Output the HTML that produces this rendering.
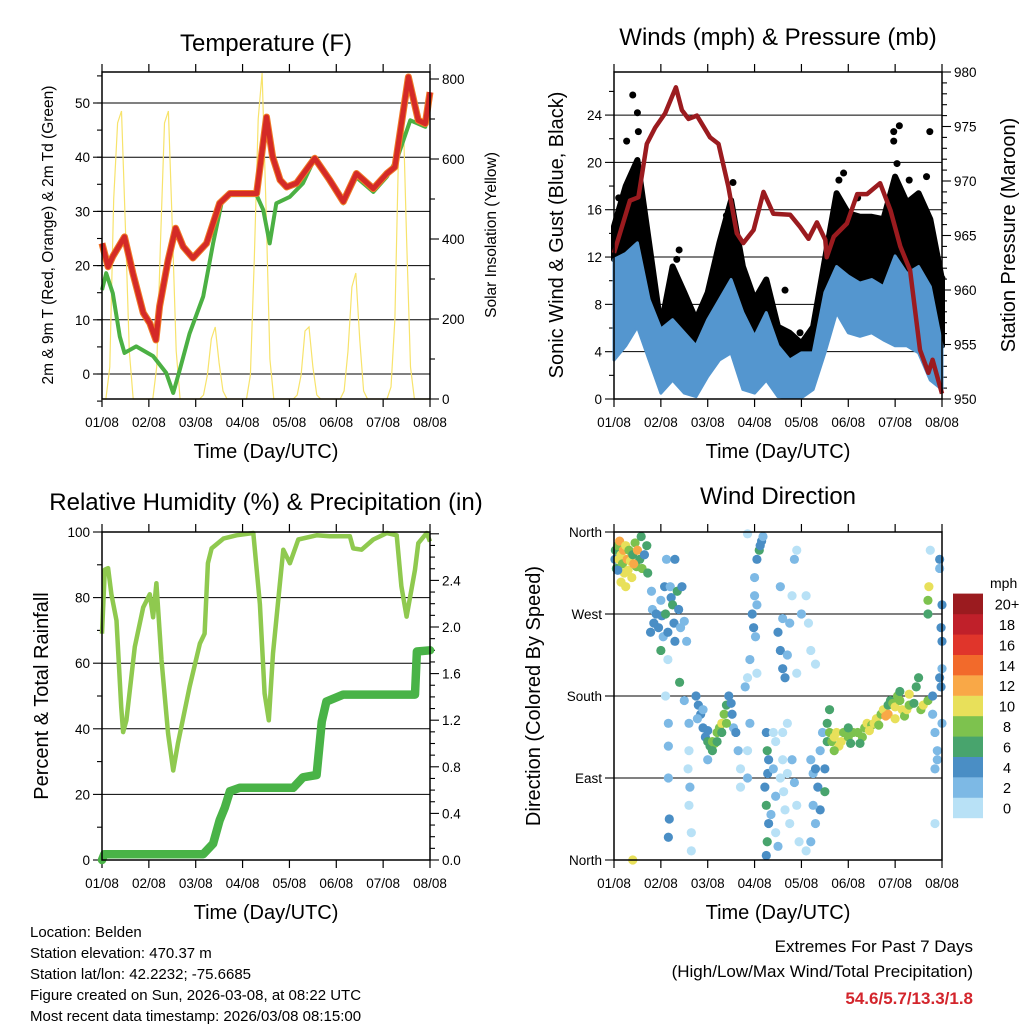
<!DOCTYPE html>
<html><head><meta charset="utf-8"><style>
html,body{margin:0;padding:0;background:#fff;}
svg{display:block;font-family:"Liberation Sans",sans-serif;}
</style></head><body>
<svg id="s" width="1024" height="1024" viewBox="0 0 1024 1024" xmlns="http://www.w3.org/2000/svg">
<rect width="1024" height="1024" fill="#fff"/>
<g id="g1"></g>
<g id="g2"></g>
<g id="g3"></g>
<g id="g4"></g>
<g id="g5"></g>
<text x="266" y="51" font-size="24" text-anchor="middle">Temperature (F)</text>
<text x="778" y="45" font-size="24" text-anchor="middle">Winds (mph) &amp; Pressure (mb)</text>
<text x="266" y="510" font-size="24" text-anchor="middle">Relative Humidity (%) &amp; Precipitation (in)</text>
<text x="778" y="504" font-size="24" text-anchor="middle">Wind Direction</text>
<text transform="translate(53,235) rotate(-90)" font-size="15.5" text-anchor="middle">2m &amp; 9m T (Red, Orange) &amp; 2m Td (Green)</text>
<text transform="translate(496,235) rotate(-90)" font-size="15.5" text-anchor="middle">Solar Insolation (Yellow)</text>
<text transform="translate(563,235) rotate(-90)" font-size="20" text-anchor="middle">Sonic Wind &amp; Gust (Blue, Black)</text>
<text transform="translate(1015,235) rotate(-90)" font-size="20" text-anchor="middle">Station Pressure (Maroon)</text>
<text transform="translate(48,696) rotate(-90)" font-size="20" text-anchor="middle">Percent &amp; Total Rainfall</text>
<text transform="translate(540,696) rotate(-90)" font-size="20" text-anchor="middle">Direction (Colored By Speed)</text>
<text x="266" y="458" font-size="20" text-anchor="middle">Time (Day/UTC)</text>
<text x="778" y="458" font-size="20" text-anchor="middle">Time (Day/UTC)</text>
<text x="266" y="919" font-size="20" text-anchor="middle">Time (Day/UTC)</text>
<text x="778" y="919" font-size="20" text-anchor="middle">Time (Day/UTC)</text>
<g font-size="15">
<text x="30" y="937">Location: Belden</text>
<text x="30" y="958">Station elevation: 470.37 m</text>
<text x="30" y="979">Station lat/lon: 42.2232; -75.6685</text>
<text x="30" y="1000">Figure created on Sun, 2026-03-08, at 08:22 UTC</text>
<text x="30" y="1021">Most recent data timestamp: 2026/03/08 08:15:00</text>
</g>
<text x="973" y="952" font-size="17" text-anchor="end">Extremes For Past 7 Days</text>
<text x="973" y="977" font-size="17" text-anchor="end">(High/Low/Max Wind/Total Precipitation)</text>
<text x="973" y="1004" font-size="17" font-weight="bold" fill="#d3252c" text-anchor="end">54.6/5.7/13.3/1.8</text>
</svg>
<script>
// ---------- DATA ----------
const dayLabels = ["01/08","02/08","03/08","04/08","05/08","06/08","07/08","08/08"];
const tempTimes = [0,0.13,0.23,0.48,0.66,0.88,1.02,1.15,1.23,1.41,1.57,1.73,1.94,2.23,2.51,2.73,3.30,3.51,3.64,3.8,3.94,4.15,4.54,4.86,5.15,5.43,5.79,6.08,6.25,6.54,6.75,6.9,7.0];
const tempValues = [24.1,19.8,21.7,25.3,18.6,11.3,9.4,6.3,12.5,21,26.9,23.5,21.4,24.1,31.5,33.3,33.3,47.4,40.1,35.8,34.5,35.2,39.8,35.8,31.8,37,34.2,37,38.2,54.8,46.8,46.2,52];
const dewTimes = [0,0.09,0.23,0.38,0.48,0.73,1.09,1.37,1.52,1.66,1.87,2.16,2.37,2.55,2.73,3.3,3.44,3.58,3.72,4.01,4.29,4.54,4.86,5.15,5.43,5.79,6.08,6.3,6.58,6.9,7.0];
const dewValues = [15.5,18.6,14.9,6.9,3.9,5.1,3.3,0.2,-3.5,0.8,7.5,14.3,24.1,31.5,33,33,30.3,24.1,31.5,32.7,35.2,39.8,35.3,31.5,36.3,33.6,36.4,39.8,46.8,45.6,51.4];
const solarHours = [0,2,4,6,8,10,12,14,16,18,20,22];
const solarDay0 = [0,0,80,500,690,720,430,120,0,0,0,0];
const solarDay1 = [0,0,80,400,690,720,430,120,0,0,0,0];
const solarDay2 = [0,0,10,60,150,180,90,20,0,0,0,0];
const solarDay3 = [0,0,60,350,700,815,480,100,0,0,0,0];
const solarDay4 = [0,0,10,60,170,180,80,10,0,0,0,0];
const solarDay5 = [0,0,20,120,280,315,150,20,0,0,0,0];
const solarDay6 = [0,0,30,200,650,757,400,80,0,0,0,0];

const pressTimes = [0,0.34,0.52,0.70,0.88,1.09,1.32,1.45,1.59,1.77,2.05,2.23,2.44,2.62,2.76,2.98,3.19,3.40,3.76,3.97,4.15,4.33,4.51,4.54,4.69,4.97,5.19,5.40,5.68,5.90,6.11,6.32,6.53,6.71,6.8,7.0];
const pressValues = [963.4,968.2,968.5,973.4,974.9,976.2,978.6,976.5,975.7,976,974,973.4,969.5,965.2,964.3,965.5,969,967,966.9,965.8,964.7,966.2,964.6,963,964.9,966.1,968.8,968.8,969.8,967.3,964,961.8,954.5,952.4,953.6,950.5];
const windTimes = [0,0.25,0.5,0.75,1,1.25,1.5,1.75,2,2.25,2.5,2.75,3,3.25,3.5,3.75,4,4.25,4.5,4.75,5,5.25,5.5,5.75,6,6.25,6.5,6.75,7];
const windHigh = [11.8,12.3,13.2,8.4,5.9,6.7,5.6,4.5,6.7,8.4,10.1,7.3,5.3,7.3,4.5,3.3,3.9,3.9,9.0,11.2,10.4,9.8,10.1,9.5,12.1,10.6,11.2,9.5,4.5];
const windLow = [3.3,4.5,6.1,3.3,0.5,1.6,0.5,0.2,1.9,3.3,3.9,0.8,0.5,1.6,0.2,0.1,0.1,0.8,3.9,7.3,5.6,5.3,5.6,5.0,4.5,4.5,3.9,1.6,0.8];
const gustHigh = [14.6,18,20.2,13.2,6.1,11.2,9.0,6.7,9.0,13.2,16.8,11.2,8.4,10.1,6.1,5.6,4.7,6.1,11.8,17.4,15.7,15.4,15.4,15.2,18.8,16.6,17.4,15.2,10.1];
const gustOutTimes = [0.40,0.50,0.52,0.27,1.39,1.34,2.54,3.97,3.65,4.90,5.97,6.09,5.97,6.74,6.67,7.0,6.04,0.1,0.6,2.4,4.8,5.2,6.3];
const gustOutValues = [25.7,24.2,22.6,21.8,12.6,11.8,18.3,5.6,9.2,19.1,22.6,23.1,21.8,22.6,18.8,10.2,19.9,17,16,15.5,18.5,17,18.5];

const rhTimes = [0,0.06,0.13,0.2,0.31,0.41,0.45,0.52,0.70,0.88,1.02,1.09,1.16,1.27,1.41,1.52,1.62,1.87,2.09,2.19,2.26,2.34,2.59,2.87,3.23,3.37,3.47,3.56,3.65,3.79,3.87,4.01,4.19,4.58,4.86,5.29,5.36,5.54,5.79,6.08,6.29,6.39,6.50,6.68,6.75,6.93,7.0];
const rhValues = [69,88.5,89,81,73,46.7,39,42.6,65,77,81,74,84.4,61,38.5,27.3,35.5,52.8,66,69,90.5,95,98,99,99.7,78,50.8,42.6,63,83.4,94.6,90.5,97.7,99,98.7,98.7,95,94.6,97.7,99.7,99,83.4,74.2,88.5,96.6,99.7,97.1];
const rainTimes = [0,0.05,2.16,2.37,2.51,2.62,2.73,2.94,4.08,4.29,4.58,4.69,4.79,5.15,6.68,6.72,7.0];
const rainValues = [0,0.05,0.05,0.14,0.34,0.45,0.59,0.62,0.62,0.71,0.73,1.19,1.36,1.42,1.42,1.79,1.80];

const dirTimes = [0.02,0.03,0.05,0.08,0.1,0.12,0.15,0.18,0.2,0.22,0.25,0.28,0.3,0.32,0.35,0.38,0.4,0.45,0.48,0.5,0.55,0.58,0.6,0.65,0.7,0.72,0.15,0.25,0.42,0.08,
0.8,0.82,0.85,0.9,0.95,1.0,1.02,1.05,1.08,1.1,1.15,1.2,1.22,1.25,1.28,1.3,1.35,1.38,1.42,1.45,1.5,1.55,1.12,1.3,0.78,1.0,
1.15,1.4,1.5,1.1,1.16,1.16,1.16,1.18,1.16,1.6,1.6,1.62,1.6,1.65,1.65,1.58,
1.75,1.8,1.85,1.9,1.95,2.0,2.05,2.1,2.15,2.2,2.25,2.3,2.35,2.4,2.45,2.5,2.52,2.55,1.9,2.0,2.1,2.2,2.3,2.4,2.6,2.65,2.7,2.7,1.78,2.0,
2.85,3.0,3.05,3.1,3.12,3.15,3.18,3.0,2.95,2.98,3.02,3.05,2.9,2.85,2.8,3.05,2.9,2.85,2.85,
3.25,3.27,3.3,3.28,3.22,3.25,3.3,3.27,3.25,3.35,3.4,3.4,3.45,3.45,3.45,3.5,3.55,3.6,3.62,3.65,3.7,3.75,3.8,3.85,3.9,3.95,3.6,3.7,
3.5,3.55,3.6,3.65,3.7,3.6,3.55,3.75,3.85,3.9,4.1,4.15,4.2,4.3,4.0,3.8,3.9,
4.2,4.25,4.3,4.35,4.4,4.4,4.45,4.5,4.5,4.55,4.55,4.6,4.25,4.3,4.2,4.1,
4.6,4.65,4.7,4.75,4.8,4.85,4.9,5.0,5.05,5.1,5.2,5.3,5.35,5.4,5.5,5.55,5.6,5.7,5.75,5.8,5.85,5.9,5.95,6.0,6.05,6.1,6.15,6.2,6.25,6.3,6.4,6.45,6.5,6.55,6.6,6.7,4.7,5.0,5.25,5.45,5.65,5.85,6.0,6.1,6.3,
6.8,6.85,6.9,6.85,6.9,6.8,6.95,7.0,6.98,7.0,6.95,6.85,6.95,6.75,6.7,6.7,6.72,7.0,6.98,7.0,0.4];
const dirValues = [330,340,320,345,330,350,335,325,340,315,345,330,318,340,328,310,335,348,322,340,330,355,320,335,345,315,305,300,325,318,
295,275,260,270,255,285,268,245,300,270,250,300,288,280,260,240,295,275,255,300,262,240,330,330,250,230,
220,195,175,180,150,125,90,45,25,150,120,80,60,30,10,100,
180,170,160,145,135,130,125,130,128,140,145,150,160,170,180,172,160,145,165,142,120,130,140,150,140,120,100,80,155,110,
358,310,330,340,345,350,355,290,270,255,245,280,220,200,190,205,150,120,90,
140,120,110,95,80,60,40,20,5,50,100,140,130,70,30,15,90,110,75,55,95,40,110,85,60,20,140,150,
250,230,210,200,225,265,300,260,330,340,290,260,230,215,270,290,205,
110,95,100,80,55,120,140,100,75,130,150,165,60,40,20,10,
140,130,135,140,125,130,140,135,128,140,140,135,145,150,148,150,155,160,165,158,170,175,172,168,180,175,165,158,165,170,172,190,200,165,170,175,120,145,128,142,148,160,155,185,182,
160,140,120,100,110,180,200,240,255,280,320,40,330,340,285,270,300,210,190,150,0];
const dirSpeeds = [4,6,6,8,10,12,10,8,12,10,10,12,10,8,10,10,6,8,8,12,6,6,8,4,6,6,10,10,12,4,
2,2,4,4,4,2,4,2,4,6,4,2,4,6,4,4,6,4,2,4,2,2,2,4,4,6,
0,6,2,0,2,2,2,4,4,2,0,2,0,0,0,0,
4,4,4,4,4,6,6,8,8,8,8,10,8,6,4,4,4,2,2,4,6,6,6,8,4,2,0,0,2,2,
0,2,4,6,4,4,2,2,4,4,2,2,2,0,2,0,2,0,2,
4,6,4,4,4,6,4,6,4,2,2,0,0,2,0,2,0,0,0,0,0,0,2,2,0,0,0,0,
4,4,4,4,2,2,2,2,2,0,0,0,0,0,2,0,0,
2,2,4,4,4,2,2,4,6,6,6,6,2,2,2,0,
8,8,10,10,10,10,8,8,6,8,8,8,8,10,8,10,10,8,10,12,6,6,8,10,8,8,10,8,10,8,6,6,6,8,10,8,8,6,6,10,8,12,10,6,10,
2,2,2,2,2,4,4,4,4,4,2,0,4,0,8,6,10,2,4,2,10];
const speedLabels = ["0","2","4","6","8","10","12","14","16","18","20+"];
const speedColors = ["#b8e1f6","#7db9e5","#4a8ec5","#48a46d","#7dc24e","#e8e05a","#f9a847","#f26a2b","#e0352b","#c0202a","#9b1b1f"];

// ---------- HELPERS ----------
const NS="http://www.w3.org/2000/svg";
function mk(parent, tag, attrs){const e=document.createElementNS(NS,tag);for(const k in attrs)e.setAttribute(k,attrs[k]);parent.appendChild(e);return e;}
function pathFrom(xs, ys){return xs.map((x,i)=>(i?"L":"M")+x.toFixed(1)+","+ys[i].toFixed(1)).join("");}
const L=102,R=430,L2=614,R2=942;
const W=328;
const xA = t => L + t*W/7;
const xB = t => L2 + t*W/7;
const yT = v => 374 - v*5.42;
const ySol = v => 399 - v*0.4;
const yW = v => 399 - v*11.83;
const yP = v => 399 - (v-950)*10.9;
const yRH = v => 860 - v*3.28;
const yRain = v => 860 - v*116.5;
const yD = v => 860 - v*328/360;

function frame(g, x0, x1, y0, y1, labelY){
  for(let i=0;i<8;i++){
    const x=x0+i*(x1-x0)/7;
    const tk=mk(g,"line",{x1:x,x2:x,y1:y1,y2:y1+8,stroke:"#000","stroke-width":1.2});
    
    
    const tk2=mk(g,"line",{x1:x,x2:x,y1:y0,y2:y0-8,stroke:"#000","stroke-width":1.2});
    
    
    const tl=mk(g,"text",{x:x,y:labelY,"font-size":13.5,"text-anchor":"middle"});
    tl.textContent=dayLabels[i];
    
    
  }
}
function box(g,x0,x1,y0,y1){
  const b=mk(g,"rect",{x:x0,y:y0,width:x1-x0,height:y1-y0,fill:"none",stroke:"#000","stroke-width":1.5});
  
  
}
function grid(g,x0,x1,y){
  const l=mk(g,"line",{x1:x0,x2:x1,y1:y,y2:y,stroke:"#000","stroke-width":1});
  
  
}
function ytick(g,x,y,len,side){
  const t=mk(g,"line",{x1:x,x2:x+(side<0?-len:len),y1:y,y2:y,stroke:"#000","stroke-width":1.1});
  
  
}
function ylabel(g,x,y,txt,anchor){
  const t=mk(g,"text",{x:x,y:y+5,"font-size":13.5,"text-anchor":anchor});
  t.textContent=txt;
  
  
}

// ---------- PANEL 1 ----------
const g1=document.getElementById("g1");
frame(g1,L,R,72,399,427);
for(let v=0;v<=50;v+=10){grid(g1,L,R,yT(v));ytick(g1,L,yT(v),9,-1);ylabel(g1,L-12,yT(v),String(v),"end");}
for(let v=-5;v<=55;v+=5){ytick(g1,L,yT(v),5,-1);}
for(let v=0;v<=800;v+=100){ytick(g1,R,ySol(v),v%200?5:9,1);if(v%200===0)ylabel(g1,R+12,ySol(v),String(v),"start");}
const solarDays=[solarDay0,solarDay1,solarDay2,solarDay3,solarDay4,solarDay5,solarDay6];
const sx=[],sy=[];
solarDays.forEach((arr,d)=>arr.forEach((v,i)=>{sx.push(xA(d+solarHours[i]/24));sy.push(ySol(v));}));
sx.push(xA(7));sy.push(ySol(0));
const sol=mk(g1,"path",{d:pathFrom(sx,sy),fill:"none",stroke:"#f7e36b","stroke-width":1.2});


const dew=mk(g1,"path",{d:pathFrom(dewTimes.map(xA),dewValues.map(yT)),fill:"none",stroke:"#4bb043","stroke-width":4,"stroke-linejoin":"round"});


const t9=mk(g1,"path",{d:pathFrom(tempTimes.map(xA),tempValues.map(yT)),fill:"none",stroke:"#f07a26","stroke-width":7,"stroke-linejoin":"round"});


const t2=mk(g1,"path",{d:pathFrom(tempTimes.map(xA),tempValues.map(yT)),fill:"none",stroke:"#d42a27","stroke-width":5,"stroke-linejoin":"round"});


box(g1,L,R,72,399);

// ---------- PANEL 2 ----------
const g2=document.getElementById("g2");
frame(g2,L2,R2,72,399,427);
for(let v=0;v<=24;v+=4){grid(g2,L2,R2,yW(v));ytick(g2,L2,yW(v),9,-1);ylabel(g2,L2-12,yW(v),String(v),"end");}
for(let v=2;v<=26;v+=4){ytick(g2,L2,yW(v),5,-1);}
for(let v=950;v<=980;v+=1){ytick(g2,R2,yP(v),v%5?5:9,1);if(v%5===0)ylabel(g2,R2+12,yP(v),String(v),"start");}
const gx=windTimes.map(xB).concat(windTimes.map(xB).reverse());
const gy=gustHigh.map(yW).concat(windHigh.map(yW).reverse());
const gb=mk(g2,"path",{d:pathFrom(gx,gy)+"Z",fill:"#000",stroke:"#000","stroke-width":6,"stroke-linejoin":"round"});


gustOutTimes.forEach((t,i)=>{
  const c=mk(g2,"circle",{cx:xB(t),cy:yW(gustOutValues[i]),r:3.5,fill:"#000"});
  
  
});
const bx=windTimes.map(xB).concat(windTimes.map(xB).reverse());
const by=windHigh.map(yW).concat(windLow.map(yW).reverse());
const bb=mk(g2,"path",{d:pathFrom(bx,by)+"Z",fill:"#5496cf",stroke:"#5496cf","stroke-width":3,"stroke-linejoin":"round"});


const pr=mk(g2,"path",{d:pathFrom(pressTimes.map(xB),pressValues.map(yP)),fill:"none",stroke:"#9b1b1f","stroke-width":4.5,"stroke-linejoin":"round"});


box(g2,L2,R2,72,399);

// ---------- PANEL 3 ----------
const g3=document.getElementById("g3");
frame(g3,L,R,532,860,888);
for(let v=0;v<=100;v+=20){if(v>0&&v<100)grid(g3,L,R,yRH(v));ytick(g3,L,yRH(v),9,-1);ylabel(g3,L-12,yRH(v),String(v),"end");}
for(let v=10;v<=90;v+=20){ytick(g3,L,yRH(v),5,-1);}
for(let k=0;k<=28;k++){const v=k/10;ytick(g3,R,yRain(v),k%4?5:9,1);if(k%4===0&&k<28)ylabel(g3,R+12,yRain(v),v.toFixed(1),"start");}
const rh=mk(g3,"path",{d:pathFrom(rhTimes.map(xA),rhValues.map(yRH)),fill:"none",stroke:"#8fc94f","stroke-width":4.5,"stroke-linejoin":"round"});


const rn=mk(g3,"path",{d:pathFrom(rainTimes.map(xA),rainValues.map(yRain)),fill:"none",stroke:"#49b347","stroke-width":8.5,"stroke-linejoin":"round","stroke-linecap":"round"});


box(g3,L,R,532,860);

// ---------- PANEL 4 ----------
const g4=document.getElementById("g4");
frame(g4,L2,R2,532,860,888);
const dirNames=["North","East","South","West","North"];
for(let i=0;i<=4;i++){const v=i*90;if(i>0&&i<4)grid(g4,L2,R2,yD(v));ytick(g4,L2,yD(v),9,-1);ylabel(g4,L2-12,yD(v),dirNames[i],"end");}
dirTimes.forEach((t,i)=>{
  const idx=Math.min(10,Math.max(0,Math.round(dirSpeeds[i]/2)));
  const c=mk(g4,"circle",{cx:xB(t),cy:yD(dirValues[i]),r:4.6,fill:speedColors[idx]});
  
  
});
box(g4,L2,R2,532,860);

// ---------- COLORBAR ----------
const g5=document.getElementById("g5");
const mph=mk(g5,"text",{x:990,y:588,"font-size":14,"text-anchor":"start"});
mph.textContent="mph";


speedColors.forEach((c,i)=>{
  const y=818-(i+1)*20.4;
  const r=mk(g5,"rect",{x:953,y:y,width:30,height:20.6,fill:c});
  
  
  const t=mk(g5,"text",{x:1007,y:y+16,"font-size":14.5,"text-anchor":"middle"});
  t.textContent=speedLabels[i];
  
  
});
</script>
</body></html>
